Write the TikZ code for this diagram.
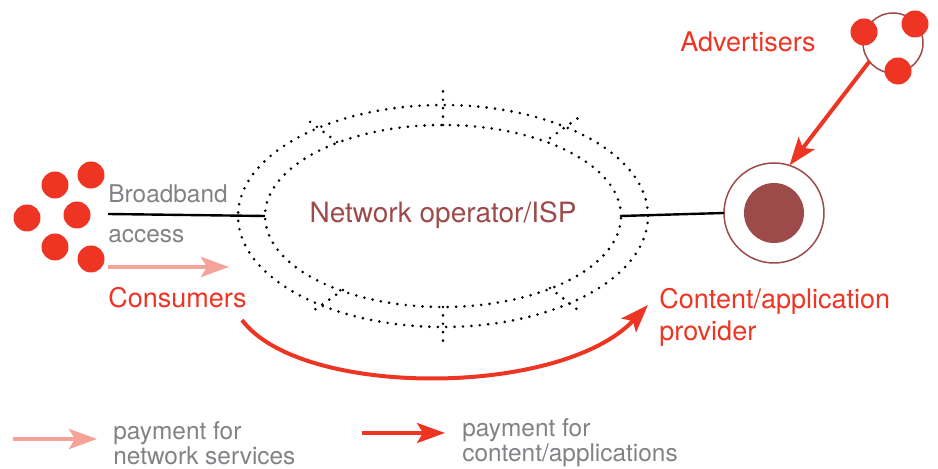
\documentclass[tikz,border=0pt]{standalone}
\usepackage{fontspec}
\setmainfont{TeX Gyre Heros}
\usetikzlibrary{shapes.geometric,arrows.meta}
\definecolor{dot-red}{RGB}{238,53,36}
\definecolor{pay-pink}{RGB}{245,162,153}
\definecolor{isp-brown}{RGB}{157,75,74}
\definecolor{note-gray}{RGB}{128,130,133}
\begin{document}
\begin{tikzpicture}[x=0.5pt,y=-0.5pt,
  reddot/.style={circle,fill=dot-red,inner sep=0pt,outer sep=0pt,minimum size=13.5pt},
  dotline/.style={line width=1.45pt,line cap=round,dash pattern=on 0pt off 4.2pt},
  ringshape/.style={ellipse,draw,dotline,inner sep=0pt,outer sep=0pt},
  redlabel/.style={text=dot-red,font=\fontsize{13.5pt}{16pt}\selectfont,inner sep=0pt,anchor=base west},
  graylabel/.style={text=note-gray,font=\fontsize{12.2pt}{14pt}\selectfont,inner sep=0pt,anchor=base west},
  netpay/.style={pay-pink,line width=2pt,-{Stealth[length=14pt,width=10pt,inset=3pt]}},
  contpay/.style={dot-red,line width=2pt,-{Stealth[length=14pt,width=10pt,inset=3pt]}}]
\useasboundingbox (0,0) rectangle (938,469);

% consumers
\foreach \n/\p in {1/{91,175},2/{55,185},3/{27,218},4/{77,215},5/{55,247},6/{91,259}}
  \node[reddot] (cons\n) at (\p) {};
\node[graylabel] (bb_top) at (108,203) {Broadband};
\node[graylabel] (bb_bot) at (108,243) {access};
\node[redlabel] (cons_label) at (108,308) {Consumers};

% network operator
\node[ringshape,minimum width=205pt,minimum height=111pt] (ring) at (443,216) {};
\node[ringshape,minimum width=178pt,minimum height=91pt] (isp) at (443,216) {};
\node[text=isp-brown,font=\fontsize{14pt}{17pt}\selectfont,inner sep=0pt] (isp_label) at (443,215) {Network operator/ISP};
\foreach \p/\q in {{443,125}/{443,87},{337,142}/{309,121},{550,138}/{578,118},
                   {343,290}/{310,313},{550,288}/{578,310},{443,307}/{443,348}}
  \draw[dotline] (\p) -- (\q);

% provider
\node[circle,draw=isp-brown,line width=0.75pt,inner sep=0pt,outer sep=0pt,minimum size=50pt] (prov) at (774,213) {};
\node[circle,fill=isp-brown,inner sep=0pt,minimum size=30pt] (prov_core) at (prov) {};
\node[redlabel] (prov_label) at (659,309) {Content/application};
\node[redlabel] (prov_label2) at (659,341) {provider};

% advertisers
\node[circle,draw=isp-brown,line width=0.75pt,inner sep=0pt,outer sep=0pt,minimum size=30pt] (advring) at (893,43) {};
\foreach \n/\p in {1/{864,32},2/{915,24},3/{898,71}}
  \node[reddot] (adv\n) at (\p) {};
\node[redlabel] (adv_label) at (680,52) {Advertisers};

% links
\coordinate (bb_start) at (108,214);
\draw[line width=1.2pt] (bb_start) -- (isp.west);
\draw[line width=1.2pt] (isp.east) -- (prov.west);

% payments
\coordinate (net_from) at (108,267);
\coordinate (net_to) at (229,267);
\draw[netpay] (net_from) -- (net_to);
\coordinate (cont_from) at (242,320);
\coordinate (cont_to) at (648,305);
\draw[contpay] (cont_from) .. controls (300,398) and (560,398) .. (cont_to);
\draw[contpay] (advring.218) -- (prov.72);

% legend
\coordinate (leg1_from) at (13,439);
\coordinate (leg1_to) at (97,439);
\draw[netpay] (leg1_from) -- (leg1_to);
\node[graylabel] (leg1_top) at (113,440) {payment for};
\node[graylabel] (leg1_bot) at (113,465) {network services};
\coordinate (leg2_from) at (362,433);
\coordinate (leg2_to) at (445,433);
\draw[contpay] (leg2_from) -- (leg2_to);
\node[graylabel] (leg2_top) at (462,437) {payment for};
\node[graylabel] (leg2_bot) at (462,462) {content/applications};
\end{tikzpicture}
\end{document}
